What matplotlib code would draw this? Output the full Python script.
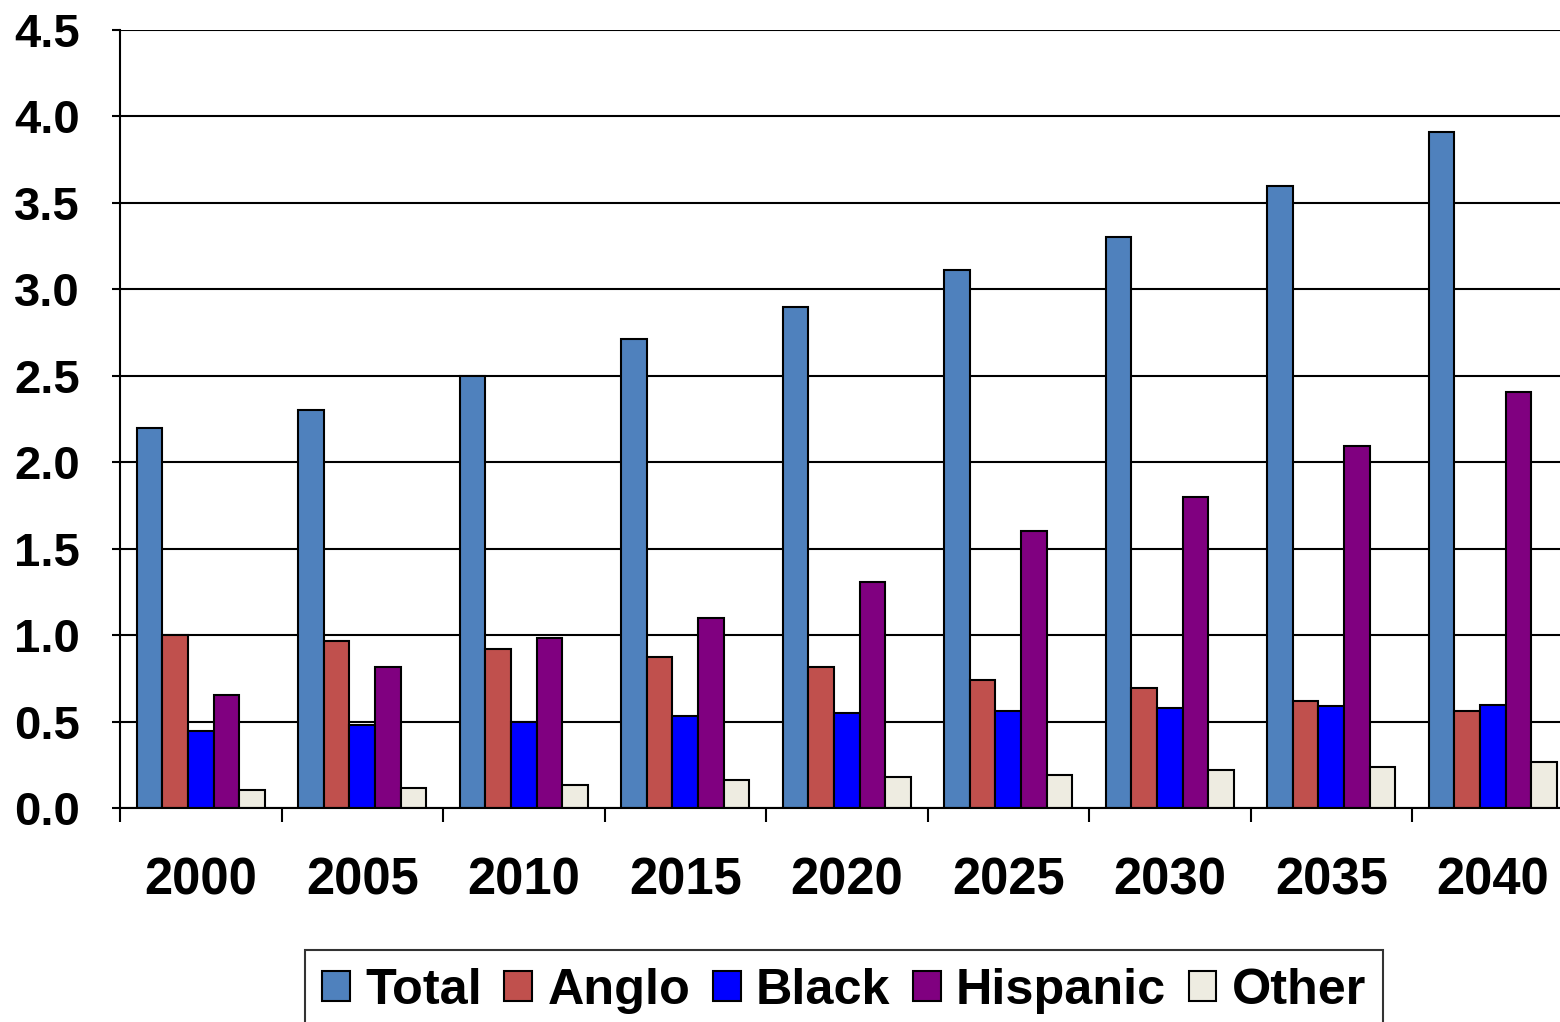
import numpy as np
import matplotlib
matplotlib.use("Agg")
from matplotlib import pyplot as plt

years = ["2000", "2005", "2010", "2015", "2020", "2025", "2030", "2035", "2040"]
series = ["Total", "Anglo", "Black", "Hispanic", "Other"]
total = [2.20, 2.30, 2.50, 2.71, 2.90, 3.11, 3.30, 3.60, 3.91]
anglo = [1.00, 0.965, 0.92, 0.875, 0.815, 0.74, 0.695, 0.62, 0.56]
black = [0.445, 0.48, 0.50, 0.53, 0.55, 0.56, 0.58, 0.59, 0.595]
hispanic = [0.655, 0.815, 0.985, 1.10, 1.31, 1.60, 1.80, 2.095, 2.405]
other = [0.105, 0.115, 0.135, 0.16, 0.18, 0.19, 0.22, 0.235, 0.265]
colors = ["#4F81BD", "#C0504D", "#0000FF", "#800080", "#EEECE1"]

plt.rcParams['font.family'] = ['Liberation Sans', 'DejaVu Sans']
plt.rcParams['font.weight'] = 'bold'

W, H = 1560, 1022
fig = plt.figure(figsize=(W / 100, H / 100), dpi=100)
ax = fig.add_axes([120 / W, (H - 808) / H, 1453.5 / W, 778 / H])

x = np.arange(len(years))
bw = 0.158
data = [total, anglo, black, hispanic, other]
for i, (name, vals) in enumerate(zip(series, data)):
    ax.bar(x + (i - 2) * bw, vals, bw, color=colors[i], edgecolor="black",
           linewidth=1.5, label=name, zorder=3)

ax.set_xlim(-0.5, len(years) - 0.5)
ax.set_ylim(0, 4.5)
ax.set_yticks(np.arange(0, 4.51, 0.5))
ax.set_yticklabels([f"{v:.1f}" for v in np.arange(0, 4.51, 0.5)], fontsize=34, fontweight='bold')
ax.set_xticks(x)
ax.set_xticklabels(years, fontsize=36.5, fontweight='bold')
ax.set_xticks(np.arange(-0.5, len(years)), minor=True)
ax.tick_params(axis='x', which='major', length=0, pad=35)
ax.tick_params(axis='x', which='minor', length=10, width=1.5, direction='out')
ax.tick_params(axis='y', length=6, width=1.5, direction='out', pad=23)
ax.yaxis.grid(True, color="black", linewidth=1.5, zorder=0)
ax.set_axisbelow(True)
for s in ["top", "right"]:
    ax.spines[s].set_visible(False)
for s in ["left", "bottom"]:
    ax.spines[s].set_linewidth(1.5)
    ax.spines[s].set_zorder(4)

leg = fig.legend(loc="upper center", bbox_to_anchor=(844 / W, 1 - 950 / H), ncol=5,
                 fontsize=36.3, frameon=True, fancybox=False, edgecolor="black",
                 handlelength=0.55, handleheight=0.55, handletextpad=0.3,
                 columnspacing=0.45, borderpad=0.35, borderaxespad=0)
leg.get_frame().set_linewidth(1.5)
for t in leg.get_texts():
    t.set_fontweight('bold')

fig.savefig("out.png", dpi=100)
